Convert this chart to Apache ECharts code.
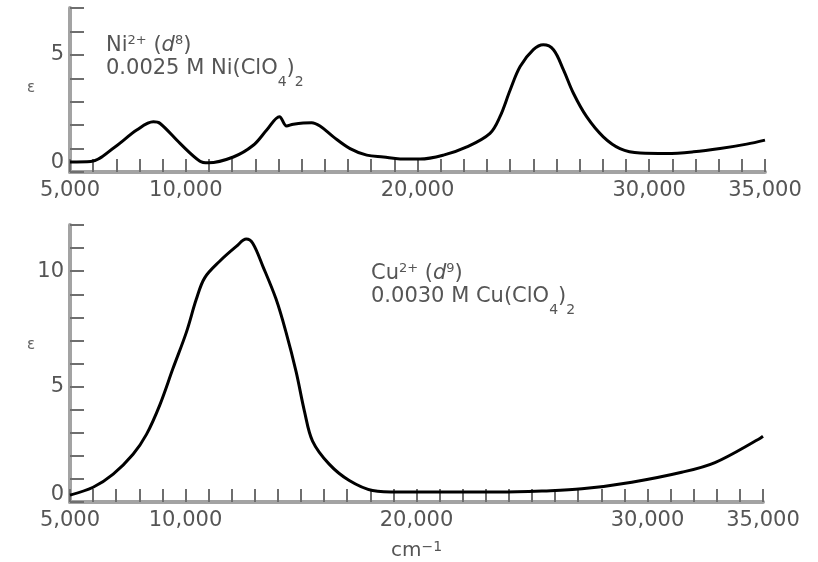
<!DOCTYPE html>
<html>
<head>
<meta charset="utf-8">
<script src="https://cdn.jsdelivr.net/npm/echarts@6/dist/echarts.min.js"></script>
<style>
  html, body { margin: 0; padding: 0; background: #fff; }
  #chart { width: 818px; height: 562px; }
</style>
</head>
<body>
<div id="chart"></div>
<script>
// ---- Data ----
// Ni2+ (d8), 0.0025 M Ni(ClO4)2 : wavenumber (cm-1) and molar absorptivity
var niWavenumber = [5000, 5900, 6940, 7880, 8600, 8890, 9750, 10610, 10970, 12050, 12910, 13490, 14040, 14350, 14640, 15430, 15790, 16370, 17090, 17810, 18530, 19250, 20110, 21120, 22130, 23130, 23560, 24000, 24430, 25000, 25430, 25870, 26300, 26730, 27300, 28020, 28740, 29610, 30760, 31910, 33060, 34210, 35000];
var niEpsilon    = [0.43, 0.45, 1.07, 1.79, 2.14, 2.07, 1.22, 0.46, 0.39, 0.64, 1.14, 1.79, 2.36, 1.96, 2.04, 2.10, 1.96, 1.50, 1.00, 0.72, 0.64, 0.56, 0.55, 0.72, 1.07, 1.65, 2.36, 3.50, 4.50, 5.22, 5.43, 5.22, 4.36, 3.36, 2.36, 1.50, 1.00, 0.81, 0.79, 0.86, 1.00, 1.19, 1.36];

// Cu2+ (d9), 0.0030 M Cu(ClO4)2
var cuWavenumber = [5000, 6000, 6870, 7730, 8310, 8890, 9460, 10040, 10470, 10830, 11480, 12200, 12630, 12910, 13350, 13920, 14350, 14790, 15150, 15500, 16220, 17090, 18100, 19250, 21000, 23560, 25500, 27160, 29320, 31480, 32920, 34790, 35000];
var cuEpsilon    = [0.30, 0.64, 1.21, 2.07, 2.93, 4.21, 5.79, 7.36, 8.79, 9.71, 10.43, 11.07, 11.39, 11.21, 10.21, 8.79, 7.36, 5.64, 3.93, 2.64, 1.64, 0.93, 0.50, 0.43, 0.43, 0.43, 0.48, 0.57, 0.86, 1.29, 1.71, 2.71, 2.85];

// Tick labels
var xTickLabels      = [5000, 10000, 20000, 30000, 35000];
var niYTickLabels    = [0, 5];
var cuYTickLabels    = [0, 5, 10];

// ---- Helpers ----
function zip(xs, ys) { return xs.map(function (x, i) { return [x, ys[i]]; }); }
function commas(v) { return String(v).replace(/\B(?=(\d{3})+(?!\d))/g, ','); }

var FONT = 'DejaVu Sans';
var TEXT = '#555';
var AXIS = '#a3a3a3';
var TICK = '#6e6e6e';

function xAxisCfg(gridIndex, extra) {
  var a = {
    type: 'value', gridIndex: gridIndex, min: 5000, max: 35000, interval: 1000,
    axisLine: { show: true, onZero: false, lineStyle: { color: AXIS, width: 4 } },
    axisTick: { show: true, inside: true, length: 13, lineStyle: { color: TICK, width: 2 } },
    axisLabel: {
      margin: 8, fontFamily: FONT, fontSize: 21, color: TEXT,
      formatter: function (v) { return xTickLabels.indexOf(v) >= 0 ? commas(v) : ''; }
    },
    splitLine: { show: false }
  };
  for (var k in extra) a[k] = extra[k];
  return a;
}

function yAxisCfg(gridIndex, max, labels, zeroPad) {
  return {
    type: 'value', gridIndex: gridIndex, min: 0, max: max, interval: 1,
    axisLine: { show: true, lineStyle: { color: AXIS, width: 4 } },
    axisTick: { show: true, inside: true, length: 14, lineStyle: { color: TICK, width: 2 } },
    axisLabel: {
      margin: 6, fontFamily: FONT, fontSize: 21, color: TEXT,
      formatter: function (v) {
        if (labels.indexOf(v) < 0) return '';
        return v === 0 ? '{z|0}' : String(v);
      },
      rich: { z: { fontFamily: FONT, fontSize: 21, color: TEXT, padding: [0, 0, zeroPad, 0] } }
    },
    splitLine: { show: false }
  };
}

// main text centred in 23px lines; superscripts top-aligned; subscripts pushed low
var annotRich = {
  a:   { fontFamily: FONT, fontSize: 21, fill: TEXT, lineHeight: 23, verticalAlign: 'middle' },
  ai:  { fontFamily: FONT, fontSize: 21, fill: TEXT, fontStyle: 'italic', lineHeight: 23, verticalAlign: 'middle' },
  sup: { fontFamily: FONT, fontSize: 13, fill: TEXT, lineHeight: 13, verticalAlign: 'top' },
  sub: { fontFamily: FONT, fontSize: 14, fill: TEXT, lineHeight: 14, padding: [18, 0, 0, 0], verticalAlign: 'top' }
};

var chart = echarts.init(document.getElementById('chart'), null, { renderer: 'canvas' });
chart.setOption({
  animation: false,
  backgroundColor: '#fff',
  grid: [
    { left: 70, right: 53, top: 8, height: 164 },
    { left: 70, right: 55, top: 225, height: 280 }
  ],
  xAxis: [
    xAxisCfg(0, {}),
    xAxisCfg(1, {
      name: '{n|cm}{s|\u22121}', nameLocation: 'middle', nameGap: 38,
      nameTextStyle: {
        rich: {
          n: { fontFamily: FONT, fontSize: 20, color: TEXT, lineHeight: 22, verticalAlign: 'middle' },
          s: { fontFamily: FONT, fontSize: 14, color: TEXT, lineHeight: 14, verticalAlign: 'top' }
        }
      }
    })
  ],
  yAxis: [
    yAxisCfg(0, 7, niYTickLabels, 18),
    yAxisCfg(1, 12, cuYTickLabels, 14)
  ],
  series: [
    {
      name: 'Ni2+', type: 'line', xAxisIndex: 0, yAxisIndex: 0,
      data: zip(niWavenumber, niEpsilon), showSymbol: false, smooth: 0.35,
      lineStyle: { color: '#000', width: 3 }
    },
    {
      name: 'Cu2+', type: 'line', xAxisIndex: 1, yAxisIndex: 1,
      data: zip(cuWavenumber, cuEpsilon), showSymbol: false, smooth: 0.35,
      lineStyle: { color: '#000', width: 3 }
    }
  ],
  graphic: [
    {
      type: 'text', left: 106, top: 34,
      style: {
        text: '{a|Ni}{sup|2+}{a| (}{ai|d}{sup|8}{a|)}\n{a|0.0025 M Ni(ClO}{sub|4}{a|)}{sub|2}',
        rich: annotRich
      }
    },
    {
      type: 'text', left: 371, top: 262,
      style: {
        text: '{a|Cu}{sup|2+}{a| (}{ai|d}{sup|9}{a|)}\n{a|0.0030 M Cu(ClO}{sub|4}{a|)}{sub|2}',
        rich: annotRich
      }
    },
    { type: 'text', left: 27, top: 81, style: { text: '\u03b5', font: '15px "DejaVu Sans"', fill: '#666' } },
    { type: 'text', left: 27, top: 338, style: { text: '\u03b5', font: '15px "DejaVu Sans"', fill: '#666' } }
  ]
});
</script>
</body>
</html>
